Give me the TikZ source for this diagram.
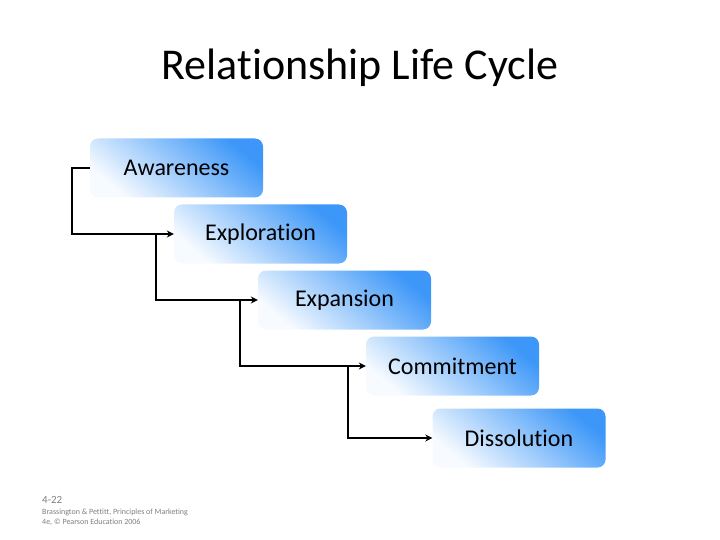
\documentclass[tikz,border=0pt]{standalone}
\usepackage{fontspec}
\setmainfont[Ligatures=NoCommon]{Carlito}
\usepackage{tikz}
\usetikzlibrary{arrows.meta,positioning,calc}
\definecolor{stageblue}{HTML}{3D97F8}
\definecolor{notegray}{HTML}{7F7F7F}

\begin{document}
\begin{tikzpicture}[
  x=1pt, y=-1pt,
  stagebox/.style={rectangle, rounded corners=8pt, minimum width=173pt,
    minimum height=59pt, inner sep=0pt, text centered, font=\fontsize{24}{28}\selectfont,
    top color=stageblue, bottom color=stageblue!4, shading angle=-40},
  connector/.style={-{Stealth[length=7pt,width=7pt]}, draw=black, line width=2.6pt},
  note/.style={anchor=west, text=notegray, inner sep=0pt},
]
  \useasboundingbox (0,0) rectangle (720,540);

  \node[font=\fontsize{44}{50}\selectfont] (title) at (360,68) {Relationship Life Cycle};

  \node[stagebox] (aware) at (176.5,168) {Awareness};
  \node[stagebox] (explor) at (260.5,234) {Exploration};
  \node[stagebox] (expan) at (344.5,300) {Expansion};
  \node[stagebox] (commit) at (452.5,366) {Commitment};
  \node[stagebox] (dissol) at (519,438) {Dissolution};

  % bending process connectors
  \draw[connector] (aware.west) -- ++(-18,0) |- (explor.west);
  \draw[connector] ($(explor.west)+(-18,0)$) |- (expan.west);
  \draw[connector] ($(expan.west)+(-18,0)$) |- (commit.west);
  \draw[connector] ($(commit.west)+(-18,0)$) |- (dissol.west);

  \node[note, font=\fontsize{11}{13}\selectfont] (slide) at (42,500) {4-22};
  \node[note, font=\fontsize{8}{10}\selectfont, align=left] (source) at (42,517)
    {Brassington \& Pettitt, Principles of Marketing\\4e, \textcopyright{} Pearson Education 2006};
\end{tikzpicture}
\end{document}
